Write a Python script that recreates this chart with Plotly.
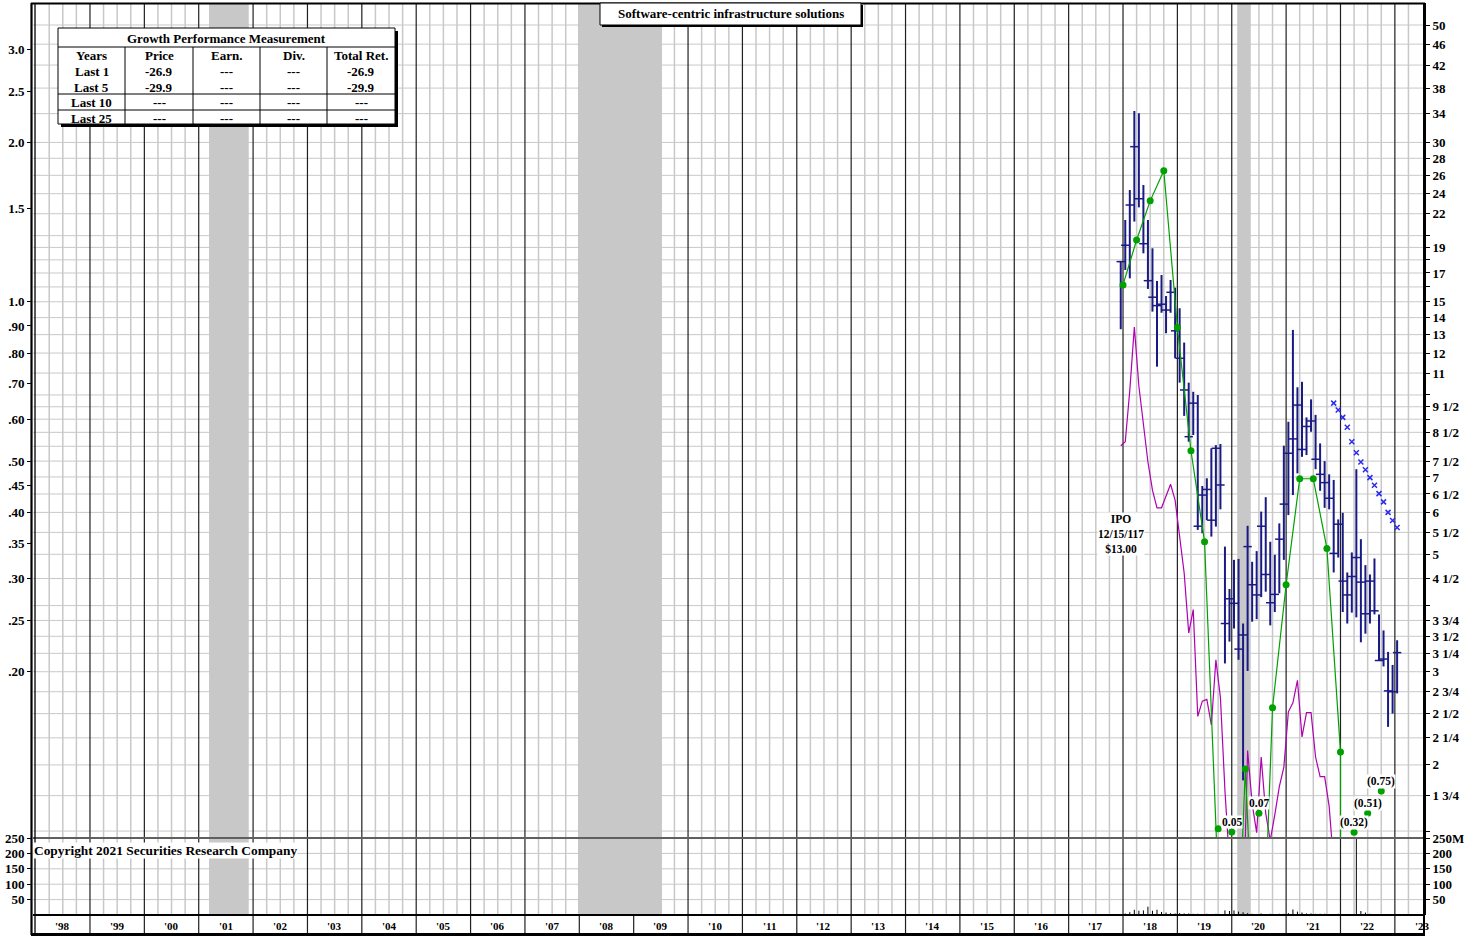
import numpy as np
import pandas as pd
import plotly.graph_objects as go

# ---------------- data ----------------
bar_months = pd.period_range("2017-12", periods=62, freq="M")

price_high = [17.86, 21.41, 24.39, 34.40, 34.06, 24.93, 21.41, 18.93, 16.42, 16.85,
              15.38, 16.49, 15.95, 14.58, 12.56, 10.55, 10.14, 10.00, 6.73, 6.96,
              7.93, 8.04, 8.08, 5.17, 4.30, 4.88, 4.90, 3.70, 5.66, 4.84,
              5.07, 6.02, 6.41, 5.28, 4.99, 5.72, 8.02, 8.90, 13.27, 10.34,
              10.59, 9.07, 9.81, 9.17, 8.10, 7.50, 7.08, 6.91, 5.82, 5.99,
              4.62, 5.04, 7.24, 5.34, 4.77, 4.58, 4.91, 3.85, 3.59, 3.27,
              3.09, 3.44]
price_low = [13.31, 17.22, 16.61, 21.26, 22.62, 18.52, 15.86, 14.37, 11.31, 14.30,
             13.08, 14.30, 11.73, 10.55, 9.13, 8.16, 8.40, 5.56, 5.48, 5.80,
             5.40, 5.64, 6.08, 3.11, 3.42, 3.62, 3.16, 1.87, 3.01, 3.73,
             3.77, 4.15, 4.25, 3.67, 3.89, 4.22, 4.88, 5.93, 6.47, 7.11,
             7.64, 7.70, 8.52, 7.24, 6.59, 6.12, 6.08, 4.62, 4.93, 3.89,
             3.70, 3.88, 3.80, 3.41, 3.54, 3.70, 3.85, 3.15, 3.07, 2.36,
             2.50, 2.73]
price_close = [17.86, 19.18, 22.85, 29.45, 23.48, 19.31, 16.44, 15.30, 14.75, 14.84,
               14.47, 15.63, 13.22, 11.73, 10.22, 8.34, 9.65, 5.65, 6.47, 6.63,
               5.80, 7.93, 6.76, 3.70, 4.12, 4.04, 3.31, 3.52, 5.17, 4.38,
               4.19, 5.65, 4.58, 4.05, 4.20, 5.34, 6.22, 7.76, 8.26, 9.57,
               7.89, 8.72, 8.93, 7.56, 7.08, 6.83, 6.38, 5.02, 5.70, 4.45,
               4.19, 4.54, 4.93, 4.43, 3.86, 4.45, 3.91, 3.15, 3.17, 2.76,
               2.75, 3.26]
volume_millions = [2, 5, 9, 17, 14, 15, 27, 14, 17, 10,
                   8, 6, 5, 6, 5, 5, 4, 4, 3, 4,
                   3, 4, 3, 15, 13, 15, 11, 9, 6, 4,
                   3, 5, 3, 4, 3, 4, 4, 6, 18, 11,
                   8, 5, 5, 4, 4, 4, 3, 3, 4, 3,
                   3, 3, 250, 13, 8, 4, 3, 3, 3, 2,
                   2, 2]
relative_strength = [8.02, 8.16, 10.2, 13.44, 10.4, 8.78, 7.47, 6.61, 6.12, 6.12,
                     6.44, 6.78, 6.33, 5.40, 4.61, 3.55, 3.93, 2.47, 2.64, 2.66,
                     2.38, 3.16, 2.68, 1.79, 1.26, 0.95, 0.90, 1.00, 2.13, 1.69,
                     1.49, 2.07, 1.62, 1.44, 1.61, 1.82, 1.98, 2.52, 2.62, 2.89,
                     2.26, 2.51, 2.51, 2.07, 1.90, 1.90, 1.67, 1.30]

eps_quarters = pd.period_range("2018Q1", periods=20, freq="Q")
eps_values = [1.076, 1.308, 1.551, 1.769, 0.894, 0.523, 0.352, 0.08, 0.03, 0.131,
              0.035, 0.171, 0.292, 0.463, 0.463, 0.342, 0.141, -0.32, -0.51, -0.75]
eps_points = [1.076, 1.308, 1.551, 1.769, 0.894, 0.523, 0.352, 0.101, 0.0996, 0.131,
              0.108, 0.171, 0.292, 0.463, 0.463, 0.342, 0.141, 0.0995, 0.108, 0.119]
eps_point_labels = ["", "", "", "", "", "", "", "", "0.05", "",
                    "0.07", "", "", "", "", "", "", "(0.32)", "(0.51)", "(0.75)"]

estimate_months = pd.period_range("2021-11", periods=15, freq="M")
estimate_values = [9.65, 9.37, 9.07, 8.69, 8.16, 7.78, 7.47, 7.22, 6.98, 6.75,
                   6.51, 6.28, 6.00, 5.79, 5.62]

recession_start = [2001.19, 2007.98, 2020.10]
recession_end = [2001.92, 2009.52, 2020.35]

years = list(range(1998, 2024))
year_labels = ["'" + str(y)[2:] for y in years]

price_tick_vals = [50, 46, 42, 38, 34, 30, 28, 26, 24, 22, 20, 19, 18, 17, 16, 15, 14, 13,
                   12, 11, 10, 9.5, 9, 8.5, 8, 7.5, 7, 6.5, 6, 5.5, 5, 4.5, 4, 3.75,
                   3.5, 3.25, 3, 2.75, 2.5, 2.25, 2, 1.75, 1.5]
price_tick_text = ["50", "46", "42", "38", "34", "30", "28", "26", "24", "22", "", "19", "",
                   "17", "", "15", "14", "13", "12", "11", "", "9 1/2", "", "8 1/2", "",
                   "7 1/2", "7", "6 1/2", "6", "5 1/2", "5", "4 1/2", "", "3 3/4", "3 1/2",
                   "3 1/4", "3", "2 3/4", "2 1/2", "2 1/4", "2", "1 3/4", ""]
earn_tick_vals = [3.0, 2.5, 2.0, 1.5, 1.0, 0.9, 0.8, 0.7, 0.6, 0.5, 0.45, 0.4, 0.35, 0.3, 0.25, 0.2]
earn_tick_text = ["3.0", "2.5", "2.0", "1.5", "1.0", ".90", ".80", ".70", ".60", ".50",
                  ".45", ".40", ".35", ".30", ".25", ".20"]
vol_tick_vals = [50, 100, 150, 200, 250]
vol_tick_text_left = ["50", "100", "150", "200", "250"]
vol_tick_text_right = ["50", "100", "150", "200", "250M"]

title_text = "Software-centric infrastructure solutions"
copyright_text = "Copyright 2021 Securities Research Company"
ipo_text = "IPO<br>12/15/117<br>$13.00"

table_title = "Growth Performance Measurement"
table_cols = ["Years", "Price", "Earn.", "Div.", "Total Ret."]
table_rows = ["Last 1", "Last 5", "Last 10", "Last 25"]
table_price = ["-26.9", "-29.9", "---", "---"]
table_earn = ["---", "---", "---", "---"]
table_div = ["---", "---", "---", "---"]
table_total = ["-26.9", "-29.9", "---", "---"]

EARN_RATIO = 15.0   # price scale = 15 x earnings scale

# ---------------- layout geometry ----------------
FONT = "Liberation Serif"
L, R, T, B = 33, 56, 3, 2
W, H = 1480, 937
PW, PH = W - L - R, H - T - B


def PX(px):
    return (px - L) / PW


def PY(py):
    return (H - B - py) / PH


VOL_TOP = PY(838)
STRIP_TOP = PY(915)
LO, HI = 0.16298, 1.74053
X_RANGE = [1997.952, 2023.536]


def price_paper(v):
    return VOL_TOP + (np.log10(v) - LO) / (HI - LO) * (1 - VOL_TOP)


def vol_paper(v):
    return STRIP_TOP + v / 250.0 * (VOL_TOP - STRIP_TOP)


def month_pos(p):
    return p.year + (p.month - 1) / 12 + 1 / 24


def quarter_pos(q):
    return q.year + (q.quarter - 1) / 4


bx = [month_pos(p) for p in bar_months]
ex = [quarter_pos(q) for q in eps_quarters]
fx = [month_pos(p) for p in estimate_months]

fig = go.Figure()

# volume
vx, vy = [], []
for x, v in zip(bx, volume_millions):
    vx += [x, x, None]
    vy += [0, v, None]
fig.add_trace(go.Scatter(x=vx, y=vy, mode="lines", yaxis="y3",
                         line=dict(color="black", width=1), hoverinfo="skip"))
fig.add_trace(go.Scatter(x=[bx[0]], y=[0], mode="markers", yaxis="y4",
                         marker=dict(opacity=0), hoverinfo="skip"))

# price bars
px_, py_ = [], []
for x, lo, hi in zip(bx, price_low, price_high):
    px_ += [x, x, None]
    py_ += [lo, hi, None]
NAVY = "#1a1a85"
fig.add_trace(go.Scatter(x=px_, y=py_, mode="lines", yaxis="y",
                         line=dict(color=NAVY, width=2), hoverinfo="skip"))
fig.add_trace(go.Scatter(x=bx, y=price_close, mode="markers", yaxis="y",
                         marker=dict(symbol="line-ew", size=6,
                                     line=dict(color=NAVY, width=1.5)),
                         hoverinfo="skip"))

# relative strength
rs = relative_strength + [None] * (len(bx) - len(relative_strength))
fig.add_trace(go.Scatter(x=bx, y=rs, mode="lines", yaxis="y",
                         line=dict(color="#b000b0", width=1.2), hoverinfo="skip"))

# estimates
fig.add_trace(go.Scatter(x=fx, y=estimate_values, mode="markers", yaxis="y",
                         marker=dict(symbol="x-thin", size=5,
                                     line=dict(color="#2b2bf0", width=1.5)),
                         hoverinfo="skip"))

# earnings line (negative values drop to the bottom)
EPS_FLOOR = 1e-3
lx, ly = [], []
prev = None
for x, v in zip(ex, eps_values):
    if v > 0:
        lx.append(x)
        ly.append(v)
    elif prev is not None and prev[1] > 0:
        lx += [prev[0], None]
        ly += [EPS_FLOOR, None]
    prev = (x, v)
GREEN = "#00a000"
fig.add_trace(go.Scatter(x=lx, y=ly, mode="lines", yaxis="y2",
                         line=dict(color=GREEN, width=1.2), hoverinfo="skip"))
fig.add_trace(go.Scatter(x=ex, y=eps_points, mode="markers", yaxis="y2",
                         marker=dict(color=GREEN, size=7), hoverinfo="skip"))

# ---------------- shapes ----------------
shapes = []
GRID = "#c8c8c8"
for v in price_tick_vals:
    y = price_paper(v)
    shapes.append(dict(type="line", xref="paper", yref="paper", x0=0, x1=1, y0=y, y1=y,
                       line=dict(color=GRID, width=1), layer="below"))
for v in [50, 100, 150, 200]:
    y = vol_paper(v)
    shapes.append(dict(type="line", xref="paper", yref="paper", x0=0, x1=1, y0=y, y1=y,
                       line=dict(color=GRID, width=1), layer="below"))
for yr in years:
    for q in (1, 2, 3):
        x = yr + q / 4
        if X_RANGE[0] < x < X_RANGE[1] - 0.05:
            shapes.append(dict(type="line", xref="x", yref="paper", x0=x, x1=x,
                               y0=STRIP_TOP, y1=1, line=dict(color=GRID, width=1.5),
                               layer="below"))
for yr in years:
    if X_RANGE[0] + 0.07 < yr < X_RANGE[1]:
        shapes.append(dict(type="line", xref="x", yref="paper", x0=yr, x1=yr,
                           y0=0, y1=1, line=dict(color="#202020", width=1.2),
                           layer="below"))
for s, e in zip(recession_start, recession_end):
    shapes.append(dict(type="rect", xref="x", yref="paper", x0=s, x1=e,
                       y0=STRIP_TOP, y1=1, fillcolor="#c8c8c8",
                       line=dict(width=0), layer="below"))


# frame
def hline(py, color, width, x0=0, x1=1):
    return dict(type="line", xref="paper", yref="paper", x0=x0, x1=x1,
                y0=PY(py), y1=PY(py), line=dict(color=color, width=width), layer="above")


def vline(px, color, width, y0=0, y1=1):
    return dict(type="line", xref="paper", yref="paper", x0=PX(px), x1=PX(px),
                y0=y0, y1=y1, line=dict(color=color, width=width), layer="above")


shapes += [
    hline(3.5, "black", 2, PX(31), PX(1425)),
    hline(838, "#606060", 2),
    hline(915, "black", 2),
    hline(934.5, "black", 3, PX(31), PX(1425)),
    vline(31.5, "black", 2.2, PY(935), PY(3)),
    vline(35, "black", 1.3, PY(935), PY(3)),
    vline(1424, "black", 2, PY(935), PY(3)),
]

# title box
shapes += [
    dict(type="rect", xref="paper", yref="paper", x0=PX(602), x1=PX(863),
         y0=PY(27), y1=PY(5), fillcolor="black", line=dict(width=0), layer="above"),
    dict(type="rect", xref="paper", yref="paper", x0=PX(600), x1=PX(861),
         y0=PY(25), y1=PY(3), fillcolor="white", line=dict(color="black", width=1),
         layer="above"),
]

# table box
TX0, TX1, TY0, TY1 = 58, 395, 28, 124
shapes += [
    dict(type="rect", xref="paper", yref="paper", x0=PX(TX0 + 3), x1=PX(TX1 + 3),
         y0=PY(TY1 + 3), y1=PY(TY0 + 3), fillcolor="black", line=dict(width=0),
         layer="above"),
    dict(type="rect", xref="paper", yref="paper", x0=PX(TX0), x1=PX(TX1),
         y0=PY(TY1), y1=PY(TY0), fillcolor="white", line=dict(color="black", width=1),
         layer="above"),
]
for yy in (47, 94, 110):
    shapes.append(hline(yy, "black", 1, PX(TX0), PX(TX1)))
for xx in (125, 193, 260, 327):
    shapes.append(vline(xx, "black", 1, PY(TY1), PY(47)))


# ---------------- annotations ----------------
def font(size):
    return dict(family=FONT, size=size, color="black", weight="bold")


ann = []
ann.append(dict(text=title_text, xref="paper", yref="paper", x=PX(730.5), y=PY(14),
                showarrow=False, font=font(13), xanchor="center", yanchor="middle"))
ann.append(dict(text=table_title, xref="paper", yref="paper", x=PX(226.5), y=PY(38),
                showarrow=False, font=font(13), xanchor="center", yanchor="middle"))
col_x = [91.5, 159, 226.5, 293.5, 361]
row_y = [56, 71.5, 87, 102.5, 118]
for cx, t in zip(col_x, table_cols):
    ann.append(dict(text=t, xref="paper", yref="paper", x=PX(cx), y=PY(row_y[0]),
                    showarrow=False, font=font(13), xanchor="center", yanchor="middle"))
for ri, rname in enumerate(table_rows):
    vals = [rname, table_price[ri], table_earn[ri], table_div[ri], table_total[ri]]
    for cx, t in zip(col_x, vals):
        ann.append(dict(text=t, xref="paper", yref="paper", x=PX(cx), y=PY(row_y[ri + 1]),
                        showarrow=False, font=font(13), xanchor="center", yanchor="middle"))

ann.append(dict(text=copyright_text, xref="paper", yref="paper", x=PX(33), y=PY(850),
                showarrow=False, font=font(13.4), xanchor="left", yanchor="middle",
                bgcolor="white", borderpad=0))

ann.append(dict(text=ipo_text, xref="x", yref="paper", x=bx[0], y=PY(533.5),
                showarrow=False, font=font(11.5), xanchor="center", yanchor="middle",
                bgcolor="white", borderpad=0))

for x, v, lab in zip(ex, eps_points, eps_point_labels):
    if lab:
        ann.append(dict(text=lab, xref="x", yref="y2", x=x, y=np.log10(v), yshift=10,
                        showarrow=False, font=font(11.5), xanchor="center",
                        yanchor="middle", bgcolor="white", borderpad=0))

for yr, lab in zip(years, year_labels):
    ann.append(dict(text=lab, xref="x", yref="paper", x=yr + 0.5, y=PY(925.5),
                    showarrow=False, font=font(11), xanchor="center", yanchor="middle"))

# ---------------- axes ----------------
tick_font = font(13)
fig.update_layout(
    width=W, height=H, template="none",
    margin=dict(l=L, r=R, t=T, b=B, pad=0),
    paper_bgcolor="white", plot_bgcolor="rgba(0,0,0,0)",
    showlegend=False, font=font(13),
    xaxis=dict(range=X_RANGE, visible=False, anchor="y3", domain=[0, 1],
               automargin=False, fixedrange=True),
    yaxis=dict(type="log", domain=[VOL_TOP, 1], range=[LO, HI], side="right",
               anchor="x", tickmode="array", tickvals=price_tick_vals,
               ticktext=price_tick_text, ticks="outside", ticklen=4, tickwidth=1,
               tickcolor="black", showgrid=False, zeroline=False, showline=True,
               linecolor="black", linewidth=2, tickfont=tick_font, automargin=False),
    yaxis2=dict(type="log", overlaying="y", side="left",
                range=[LO - np.log10(EARN_RATIO), HI - np.log10(EARN_RATIO)],
                tickmode="array", tickvals=earn_tick_vals, ticktext=earn_tick_text,
                ticks="outside", ticklen=5, tickwidth=1, tickcolor="black",
                showgrid=False, zeroline=False, showline=False,
                tickfont=tick_font, automargin=False),
    yaxis3=dict(domain=[STRIP_TOP, VOL_TOP], range=[0, 250], side="left", anchor="x",
                tickmode="array", tickvals=vol_tick_vals, ticktext=vol_tick_text_left,
                ticks="outside", ticklen=5, tickwidth=1, tickcolor="black",
                showgrid=False, zeroline=False, showline=False,
                tickfont=tick_font, automargin=False),
    yaxis4=dict(overlaying="y3", range=[0, 250], side="right",
                tickmode="array", tickvals=vol_tick_vals, ticktext=vol_tick_text_right,
                ticks="outside", ticklen=4, tickwidth=1, tickcolor="black",
                showgrid=False, zeroline=False, showline=True, linecolor="black",
                linewidth=2, tickfont=tick_font, automargin=False),
    shapes=shapes,
    annotations=ann,
)

fig.write_html("out.html",
               config={"displayModeBar": False},
               post_script="document.body.style.margin='0';document.body.style.overflow='hidden';")
